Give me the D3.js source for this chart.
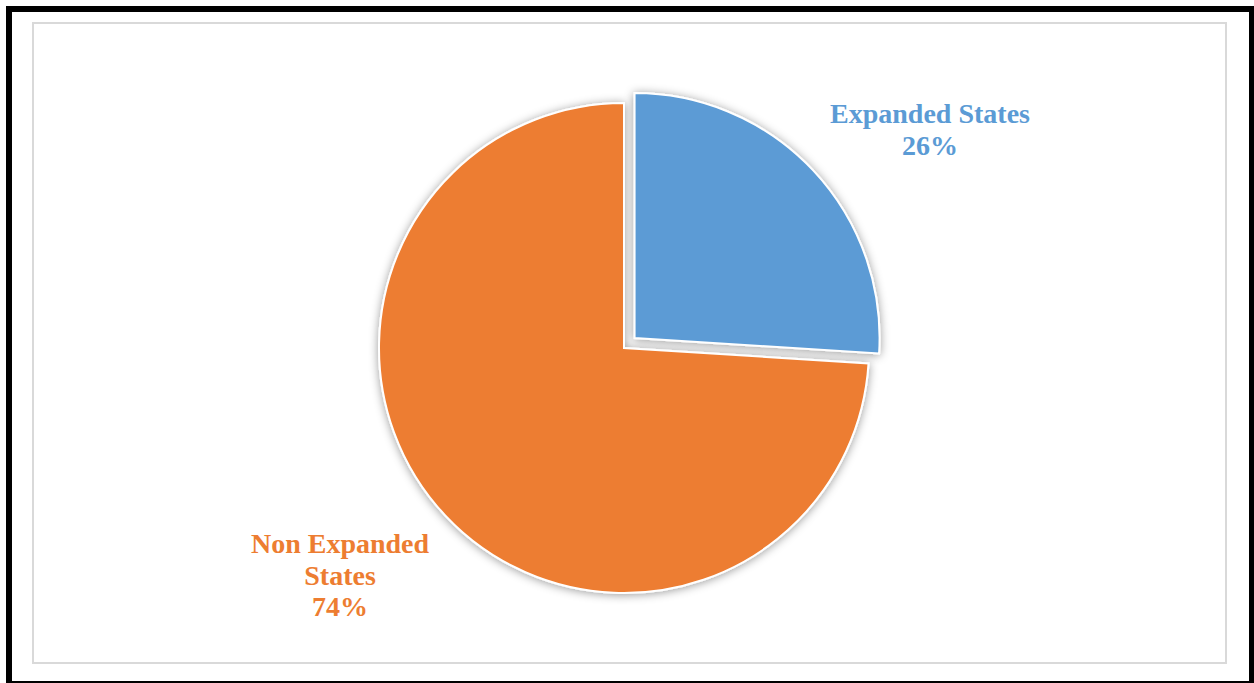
<!DOCTYPE html>
<html>
<head>
<meta charset="utf-8">
<script src="https://cdn.jsdelivr.net/npm/d3@7"></script>
<style>
  html, body { margin: 0; padding: 0; background: #ffffff; }
  svg { display: block; }
</style>
</head>
<body>
<svg id="chart" width="1254" height="683"></svg>
<script>
// Share of states by Medicaid expansion status
const categories = ["Expanded States", "Non Expanded States"];
const values = [26, 74];
const labelLines = [["Expanded States"], ["Non Expanded", "States"]];
const colors = ["#5B9BD5", "#ED7D31"];

const width = 1254, height = 683;
const svg = d3.select("#chart");

// outer black frame and light chart-area border
svg.append("rect")
  .attr("x", 9).attr("y", 9)
  .attr("width", 1243).attr("height", 675)
  .attr("fill", "none").attr("stroke", "#000").attr("stroke-width", 6);

svg.append("rect")
  .attr("x", 33).attr("y", 23)
  .attr("width", 1193).attr("height", 640)
  .attr("fill", "#fff").attr("stroke", "#d9d9d9").attr("stroke-width", 2);

// soft shadow under the slices
const defs = svg.append("defs");
const f = defs.append("filter").attr("id", "shadow")
  .attr("x", "-20%").attr("y", "-20%").attr("width", "140%").attr("height", "140%");
f.append("feDropShadow")
  .attr("dx", 0).attr("dy", 1).attr("stdDeviation", 5)
  .attr("flood-color", "#000").attr("flood-opacity", 0.4);

const cx = 624, cy = 348, radius = 245, explode = 14.5;

const pie = d3.pie().sort(null).value(d => d.value);
const arcs = pie(categories.map((c, i) => ({ name: c, value: values[i], lines: labelLines[i], color: colors[i] })));
const arc = d3.arc().innerRadius(0).outerRadius(radius);

const g = svg.append("g").attr("transform", `translate(${cx},${cy})`);

g.selectAll("path.slice")
  .data(arcs)
  .join("path")
  .attr("class", "slice")
  .attr("d", arc)
  .attr("fill", d => d.data.color)
  .attr("stroke", "#fff")
  .attr("stroke-width", 2)
  .attr("filter", "url(#shadow)")
  .attr("transform", (d, i) => {
    if (i !== 0) return null;
    const mid = (d.startAngle + d.endAngle) / 2;
    return `translate(${Math.sin(mid) * explode},${-Math.cos(mid) * explode})`;
  });

// data labels placed outside each slice
const labelOffsets = [[306, -225], [-284, 205]];
const lineHeight = 31.5;

arcs.forEach((d, i) => {
  const lines = d.data.lines.concat([Math.round(d.data.value) + "%"]);
  const t = g.append("text")
    .attr("x", labelOffsets[i][0])
    .attr("y", labelOffsets[i][1])
    .attr("text-anchor", "middle")
    .attr("fill", d.data.color)
    .attr("font-family", "'Liberation Serif', 'Times New Roman', serif")
    .attr("font-weight", "bold")
    .attr("font-size", 28);
  lines.forEach((ln, k) => {
    t.append("tspan")
      .attr("x", labelOffsets[i][0])
      .attr("dy", k === 0 ? 0 : lineHeight)
      .text(ln);
  });
});
</script>
</body>
</html>
